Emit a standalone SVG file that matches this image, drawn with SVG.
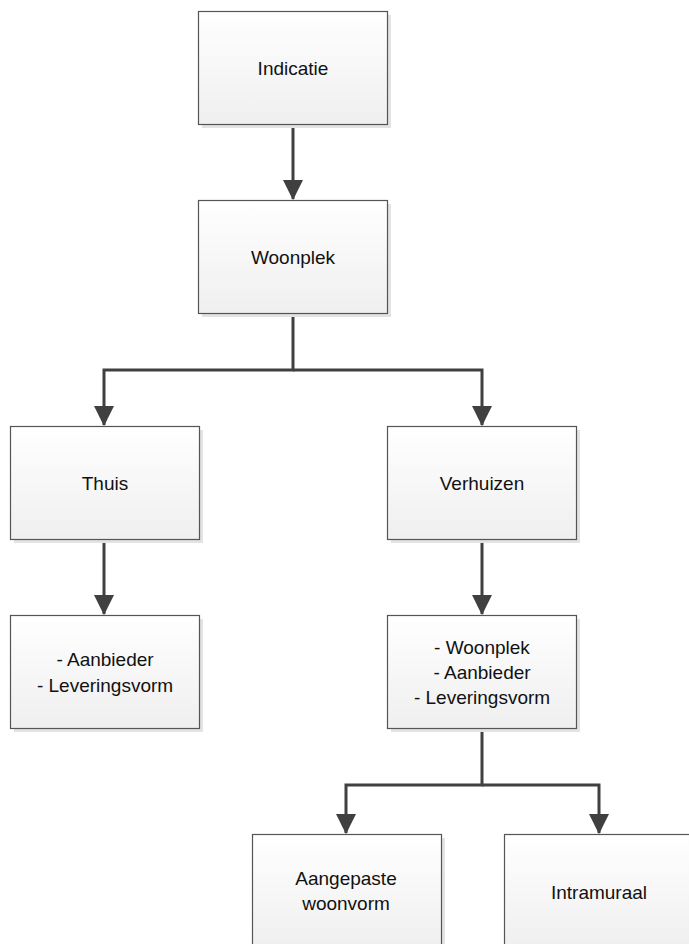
<svg xmlns="http://www.w3.org/2000/svg" width="689" height="944" viewBox="0 0 689 944">
<defs>
<linearGradient id="g" x1="0" y1="0" x2="0" y2="1">
<stop offset="0" stop-color="#ffffff"/>
<stop offset="1" stop-color="#efefef"/>
</linearGradient>
<marker id="ah" markerUnits="userSpaceOnUse" markerWidth="20" markerHeight="20" viewBox="0 0 18 18" refX="17" refY="9" orient="auto">
<path d="M0,0 L18,9 L0,18 Z" fill="#404040"/>
</marker>
<style>
.sh{fill:#e3e3e3}
.bx{fill:url(#g);stroke:#555;stroke-width:1.2}
.t{font-family:"Liberation Sans",Arial,sans-serif;font-size:19px;fill:#111;text-anchor:middle}
.c{fill:none;stroke:#404040;stroke-width:3;marker-end:url(#ah)}
</style>
</defs>
<rect width="689" height="944" fill="#fff"/>
<g id="connectors">
<path class="c" d="M293,124 V199"/>
<path class="c" d="M293,313 V370 H104 V425"/>
<path class="c" d="M293,370 H482 V425"/>
<path class="c" d="M104,539 V614"/>
<path class="c" d="M482,539 V614"/>
<path class="c" d="M482,728 V785 H346 V833"/>
<path class="c" d="M482,785 H599 V833"/>
</g>
<g id="indicatie">
<rect class="sh" x="202" y="15" width="189" height="113"/>
<rect class="bx" x="198.5" y="11.5" width="189" height="113"/>
<text class="t" x="293" y="75">Indicatie</text>
</g>
<g id="woonplek">
<rect class="sh" x="202" y="204" width="189" height="113"/>
<rect class="bx" x="198.5" y="200.5" width="189" height="113"/>
<text class="t" x="293" y="264">Woonplek</text>
</g>
<g id="thuis">
<rect class="sh" x="14" y="430" width="189" height="113"/>
<rect class="bx" x="10.5" y="426.5" width="189" height="113"/>
<text class="t" x="105" y="490">Thuis</text>
</g>
<g id="verhuizen">
<rect class="sh" x="391" y="430" width="189" height="113"/>
<rect class="bx" x="387.5" y="426.5" width="189" height="113"/>
<text class="t" x="482" y="490">Verhuizen</text>
</g>
<g id="aanbieder">
<rect class="sh" x="14" y="619" width="189" height="113"/>
<rect class="bx" x="10.5" y="615.5" width="189" height="113"/>
<text class="t" x="105" y="666">- Aanbieder</text>
<text class="t" x="105" y="692">- Leveringsvorm</text>
</g>
<g id="lijst">
<rect class="sh" x="391" y="619" width="189" height="113"/>
<rect class="bx" x="387.5" y="615.5" width="189" height="113"/>
<text class="t" x="482" y="654">- Woonplek</text>
<text class="t" x="482" y="679">- Aanbieder</text>
<text class="t" x="482" y="704">- Leveringsvorm</text>
</g>
<g id="aangepaste">
<rect class="sh" x="256" y="838" width="189" height="113"/>
<rect class="bx" x="252.5" y="834.5" width="189" height="113"/>
<text class="t" x="346" y="885">Aangepaste</text>
<text class="t" x="346" y="910">woonvorm</text>
</g>
<g id="intramuraal">
<rect class="sh" x="508" y="838" width="189" height="113"/>
<rect class="bx" x="504.5" y="834.5" width="189" height="113"/>
<text class="t" x="599" y="899">Intramuraal</text>
</g>
</svg>
